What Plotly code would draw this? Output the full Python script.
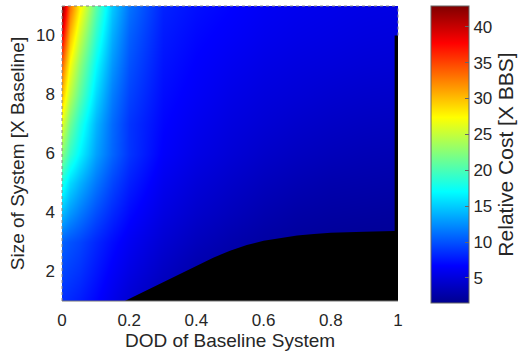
import plotly.graph_objects as go

# Depth of discharge of the baseline system (columns) and system size (rows)
dod = [0, 0.025, 0.05, 0.1, 0.15, 0.2, 0.3, 0.4, 0.5, 0.6, 0.7, 0.8, 0.9, 0.99]
size = [1, 2, 3, 4, 5, 6, 7, 8, 9, 10, 10.9]

# Relative cost [X BBS], one row per system size
cost = [
    [8.5, 8.2, 7.8, 6.8, 5.7, 4.6, 3.1, 2.2, 1.8, 1.6, 1.5, 1.5, 1.5, 1.5],
    [9.5, 9.1, 8.7, 7.5, 6.4, 5.4, 3.9, 2.8, 2.2, 1.9, 1.7, 1.6, 1.6, 1.6],
    [10.6, 10.0, 9.5, 8.2, 7.1, 6.1, 4.6, 3.6, 2.9, 2.4, 2.1, 1.9, 1.8, 1.8],
    [14.3, 12.8, 11.7, 9.8, 8.3, 7.0, 5.3, 4.3, 3.6, 3.0, 2.6, 2.4, 2.3, 2.2],
    [18.0, 15.5, 14.0, 11.5, 9.5, 7.9, 5.9, 4.9, 4.2, 3.6, 3.2, 2.9, 2.8, 2.7],
    [22.5, 19.0, 16.8, 13.2, 10.8, 8.8, 6.5, 5.5, 4.8, 4.2, 3.8, 3.5, 3.3, 3.2],
    [26.2, 21.5, 18.5, 14.0, 11.0, 8.8, 6.8, 5.9, 5.2, 4.7, 4.3, 4.0, 3.8, 3.7],
    [30.0, 24.5, 21.0, 15.5, 11.8, 9.4, 7.1, 6.3, 5.6, 5.1, 4.8, 4.5, 4.3, 4.2],
    [33.5, 27.0, 23.0, 17.0, 12.8, 10.0, 7.4, 6.6, 6.0, 5.5, 5.2, 5.0, 4.8, 4.7],
    [38.0, 30.0, 25.5, 18.8, 13.8, 10.6, 7.7, 6.9, 6.4, 5.9, 5.6, 5.4, 5.2, 5.1],
    [42.0, 33.0, 28.0, 20.5, 14.8, 11.3, 8.0, 7.2, 6.7, 6.2, 5.9, 5.7, 5.5, 5.4],
]

# Lower edge of the feasible region (minimum system size for each DOD)
bound_dod = [0.187, 0.25, 0.30, 0.35, 0.40, 0.45, 0.50, 0.55, 0.60, 0.65, 0.70, 0.75, 0.80, 0.90, 0.99]
bound_size = [1.0, 1.35, 1.65, 1.92, 2.2, 2.47, 2.7, 2.9, 3.04, 3.14, 3.22, 3.27, 3.31, 3.35, 3.37]
# Infeasible strip along full depth of discharge
strip_dod = [0.99, 1.0]
strip_top = 10.0
size_min = 1.0

cost_min, cost_max = 1.5, 42.9
cbar_ticks = [5, 10, 15, 20, 25, 30, 35, 40]
x_ticks = [0, 0.2, 0.4, 0.6, 0.8, 1]
x_tick_text = ["0", "0.2", "0.4", "0.6", "0.8", "1"]
y_ticks = [2, 4, 6, 8, 10]

jet = [
    [0.0, "rgb(0,0,143)"],
    [0.125, "rgb(0,0,255)"],
    [0.375, "rgb(0,255,255)"],
    [0.625, "rgb(255,255,0)"],
    [0.875, "rgb(255,0,0)"],
    [1.0, "rgb(128,0,0)"],
]

family = "Liberation Sans, Arial, sans-serif"
ink = "#262626"
tick_font = dict(family=family, size=17, color=ink)
title_font = dict(family=family, size=19, color=ink)
cbar_title_font = dict(family=family, size=21, color=ink)

fig = go.Figure()
fig.add_trace(go.Heatmap(
    x=dod, y=size, z=cost, zsmooth="best", colorscale=jet,
    zmin=cost_min, zmax=cost_max,
    colorbar=dict(
        x=1.098, xanchor="left", xpad=0,
        y=1.0, yanchor="top", ypad=0, len=1.007,
        thickness=38, thicknessmode="pixels",
        outlinewidth=1, outlinecolor="#666",
        tickvals=cbar_ticks, ticks="inside", ticklen=4, tickcolor="#666",
        tickfont=tick_font,
        title=dict(text="Relative Cost [X BBS]", side="right", font=cbar_title_font),
    ),
))

# Black infeasible region: boundary curve, right-hand strip, back along the bottom
poly_x = bound_dod + [strip_dod[0], strip_dod[1], strip_dod[1], bound_dod[0]]
poly_y = bound_size + [strip_top, strip_top, size_min, size_min]
fig.add_trace(go.Scatter(
    x=poly_x, y=poly_y, mode="lines", fill="toself",
    fillcolor="black", line=dict(width=0, color="black"),
    hoverinfo="skip", showlegend=False,
))

frame = dict(xref="paper", yref="paper", type="line")
fig.add_shape(**frame, x0=0, x1=1, y0=1, y1=1, line=dict(color="#888", width=1, dash="dot"))
fig.add_shape(**frame, x0=0, x1=0, y0=0, y1=1, line=dict(color="#888", width=1, dash="dot"))
fig.add_shape(**frame, x0=1, x1=1, y0=0.9, y1=1, line=dict(color="#888", width=1, dash="dot"))
fig.add_shape(**frame, x0=0, x1=1, y0=0, y1=0, line=dict(color="#777", width=1))

fig.update_layout(
    width=520, height=352,
    margin=dict(l=62, r=122, t=6, b=51, autoexpand=False),
    paper_bgcolor="white", plot_bgcolor="white",
    font=tick_font, showlegend=False,
    xaxis=dict(
        range=[0, 1], tickvals=x_ticks, ticktext=x_tick_text,
        showgrid=False, zeroline=False, showline=False, ticks="",
        ticklabelstandoff=7, tickfont=tick_font,
        title=dict(text="DOD of Baseline System", font=title_font, standoff=2),
    ),
    yaxis=dict(
        range=[1, 11], tickvals=y_ticks,
        showgrid=False, zeroline=False, showline=False, ticks="",
        ticklabelstandoff=6, tickfont=tick_font,
        title=dict(text="Size of System [X Baseline]", font=title_font, standoff=6),
    ),
)

fig.write_html("out.html")
